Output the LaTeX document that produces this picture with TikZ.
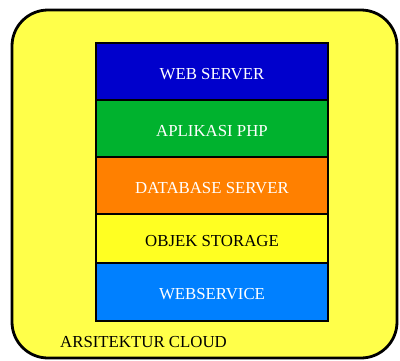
\documentclass[tikz,border=0pt]{standalone}
\usepackage{fontspec}
\setmainfont{Liberation Serif}
\usepackage{tikz}

\definecolor{cloudyellow}{RGB}{255,255,74}
\definecolor{webblue}{RGB}{0,0,204}
\definecolor{phpgreen}{RGB}{0,178,46}
\definecolor{dborange}{RGB}{255,128,0}
\definecolor{storyellow}{RGB}{255,255,34}
\definecolor{svcblue}{RGB}{0,128,255}

\begin{document}
\begin{tikzpicture}[x=1pt,y=-1pt]
	\tikzstyle{every node}+=[inner sep=0pt]
	\tikzstyle{layer}=[draw=black, line width=2.8pt, minimum width=232pt, text height=16pt, font=\fontsize{16.8}{19}\selectfont]
	\useasboundingbox (0,0) rectangle (400,360);
	\node [draw=black, line width=2.8pt, fill=cloudyellow, rounded corners=36pt, minimum width=385pt, minimum height=348pt] (cloud) at (204.5,184) {};
	\node [layer, fill=webblue, text=white, minimum height=57pt] (web) at (212,71.5) {WEB SERVER};
	\node [layer, fill=phpgreen, text=white, minimum height=57pt] (php) at (212,128.5) {APLIKASI PHP};
	\node [layer, fill=dborange, text=white, minimum height=57pt] (db) at (212,185.5) {DATABASE SERVER};
	\node [layer, fill=storyellow, text=black, minimum height=49pt] (obj) at (212,238.5) {OBJEK STORAGE};
	\node [layer, fill=svcblue, text=white, minimum height=58pt] (svc) at (212,292) {WEBSERVICE};
	\node [anchor=west, font=\fontsize{16.8}{19}\selectfont] (label) at (60,342) {ARSITEKTUR CLOUD};
\end{tikzpicture}
\end{document}
